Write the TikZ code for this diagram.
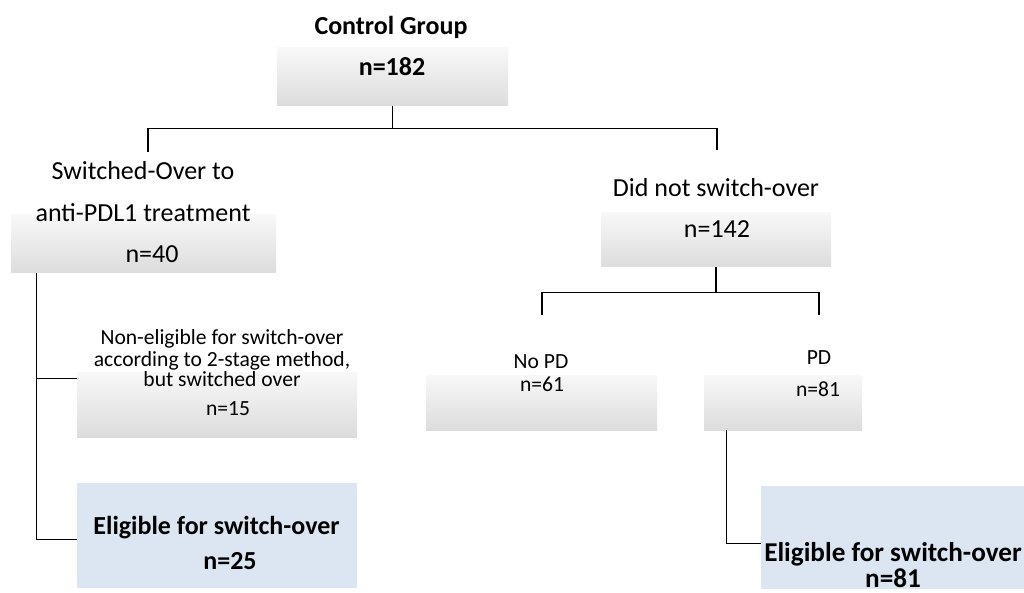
\documentclass[tikz,border=0pt]{standalone}
\usepackage{fontspec}
\setmainfont{Carlito}
\definecolor{boxtop}{HTML}{F8F8F8}
\definecolor{boxbot}{HTML}{DCDCDC}
\definecolor{eligblue}{HTML}{DCE6F2}
\begin{document}
\begin{tikzpicture}[x=1pt,y=-1pt,
  graybox/.style={rectangle, inner sep=0pt, draw=none, top color=boxtop, bottom color=boxbot},
  bluebox/.style={rectangle, inner sep=0pt, draw=none, fill=eligblue},
  big/.style={font=\fontsize{26}{30}\selectfont, anchor=base, inner sep=0pt},
  bigb/.style={font=\fontsize{26}{30}\selectfont\bfseries, anchor=base, inner sep=0pt},
  bigbb/.style={font=\fontsize{27.2}{26}\selectfont\bfseries, anchor=base, inner sep=0pt, align=center},
  small/.style={font=\fontsize{21.6}{24}\selectfont, anchor=base, inner sep=0pt},
  conn/.style={draw=black, line width=1.2pt}]
\useasboundingbox[fill=white] (0,0) rectangle (1024,593);

% boxes
\node[graybox, minimum width=231pt, minimum height=58pt] (ctrl) at (392.5,77) {};
\node[graybox, minimum width=265pt, minimum height=58pt] (sw) at (143.5,244) {};
\node[graybox, minimum width=230pt, minimum height=54pt] (dn) at (716,240) {};
\node[graybox, minimum width=280pt, minimum height=65pt] (ne) at (217,404.5) {};
\node[bluebox, minimum width=280pt, minimum height=105pt] (el1) at (217,535.5) {};
\node[graybox, minimum width=231pt, minimum height=55pt] (nopd) at (541.5,402.5) {};
\node[graybox, minimum width=158pt, minimum height=55pt] (pd) at (783,402.5) {};
\node[bluebox, minimum width=269pt, minimum height=103pt] (el2) at (895.5,537.5) {};

% texts
\node[bigb] (t1) at (391,35) {Control Group};
\node[bigb] (t2) at (392,76) {n=182};
\node[big] (t3) at (143,180) {Switched-Over to};
\node[big] (t4) at (143,222) {anti-PDL1 treatment};
\node[big] (t5) at (152,263) {n=40};
\node[big] (t6) at (716,197) {Did not switch-over};
\node[big] (t7) at (717,238) {n=142};
\node[small] (t8) at (222,344) {Non-eligible for switch-over};
\node[small] (t9) at (222,366) {according to 2-stage method,};
\node[small] (t10) at (222,386) {but switched over};
\node[small] (t11) at (228,415) {n=15};
\node[bigb] (t12) at (216.5,534) {Eligible for switch-over};
\node[bigb] (t13) at (230,569) {n=25};
\node[small] (t14) at (541,368) {No PD};
\node[small] (t15) at (542,391) {n=61};
\node[small] (t16) at (819,364) {PD};
\node[small] (t17) at (818,396) {n=81};
\node[bigbb] (t18) at (893,587) {Eligible for switch-over\\n=81};

% connector ends
\coordinate (swtop) at (148,152);
\coordinate (dntop) at (717,150);
\coordinate (nopdtop) at (542,315);
\coordinate (pdtop) at (819,315);

% connectors
\draw[conn] (ctrl.south) -- ++(0,22) coordinate (hub1);
\draw[conn] (swtop) |- (hub1) -| (dntop);
\draw[conn] ([xshift=26pt]sw.south west) coordinate (tl) |- ([yshift=-7pt]ne.north west);
\draw[conn] (tl) |- ([yshift=-57pt]el1.north west);
\draw[conn] (dn.south) -- ++(0,25) coordinate (hub2);
\draw[conn] (nopdtop) |- (hub2) -| (pdtop);
\draw[conn] ([xshift=23pt]pd.south west) |- ([yshift=-58pt]el2.north west);
\end{tikzpicture}
\end{document}
